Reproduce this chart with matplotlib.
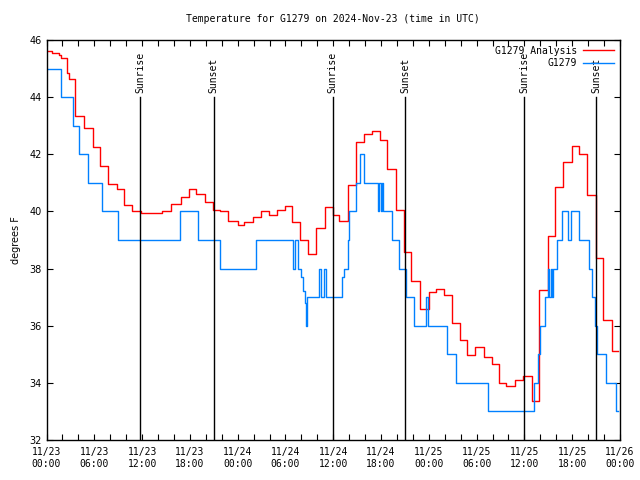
import datetime as dt
import matplotlib
matplotlib.use("Agg")
import matplotlib.pyplot as plt
import matplotlib.dates as mdates
from matplotlib.ticker import FixedLocator

# ── data (hours after 2024-11-23 00:00 UTC, deg F) ─────────────────────────
START = dt.datetime(2024, 11, 23)

analysis_h = [0.0, 0.66, 1.63, 1.76, 2.6, 2.8, 3.64, 4.77, 5.8, 6.74, 7.78,
              8.87, 9.78, 10.79, 11.88, 13.55, 14.55, 15.64, 16.9, 17.94,
              18.8, 19.86, 20.9, 21.74, 22.83, 24.08, 24.84, 25.93, 26.93,
              27.94, 28.94, 29.98, 30.86, 31.86, 32.87, 33.87, 34.91, 35.96,
              36.67, 37.79, 38.85, 39.8, 40.86, 41.81, 42.81, 43.82, 44.82,
              45.79, 46.83, 48.04, 48.88, 49.92, 50.89, 51.93, 52.85, 53.85,
              54.94, 55.91, 56.82, 57.7, 58.87, 59.87, 60.93, 61.88, 62.93,
              63.89, 64.89, 65.94, 66.9, 67.9, 68.95, 69.91, 70.96, 71.7]
analysis_t = [45.63, 45.56, 45.47, 45.36, 44.83, 44.62, 43.34, 42.92, 42.27,
              41.6, 40.95, 40.77, 40.21, 40.0, 39.93, 39.95, 40.0, 40.25, 40.5,
              40.77, 40.6, 40.33, 40.04, 40.0, 39.68, 39.53, 39.63, 39.8, 40.0,
              39.86, 40.05, 40.18, 39.63, 39.0, 38.51, 39.41, 40.14, 39.86,
              39.68, 40.93, 42.42, 42.7, 42.83, 42.5, 41.47, 40.05, 38.57,
              37.55, 36.6, 37.19, 37.27, 37.07, 36.08, 35.5, 34.97, 35.24,
              34.92, 34.66, 33.98, 33.89, 34.1, 34.25, 33.36, 37.25, 39.14,
              40.84, 41.72, 42.29, 42.0, 40.57, 38.36, 36.2, 35.11, 35.11]

obs_h = [0.0, 1.76, 3.3, 4.05, 5.18, 6.96, 8.97, 16.75, 19.0, 21.75, 26.35,
         30.9, 31.2, 31.6, 31.9, 32.15, 32.4, 32.55, 32.7, 34.15, 34.45, 34.9,
         35.05, 37.1, 37.3, 37.9, 38.0, 38.8, 39.4, 39.8, 41.65, 41.8, 42.0,
         42.1, 42.3, 43.4, 44.3, 45.1, 46.1, 47.6, 47.9, 50.3, 51.4, 55.4,
         61.25, 61.7, 61.9, 62.55, 62.9, 63.1, 63.3, 63.45, 63.55, 64.15,
         64.7, 65.5, 65.85, 66.9, 68.15, 68.45, 68.85, 69.15, 70.25, 71.5,
         71.8]
obs_t = [45, 44, 43, 42, 41, 40, 39, 40, 39, 38, 39,
         38, 39, 38, 37.7, 37.2, 36.8, 36, 37, 38, 37, 38,
         37, 37.7, 38, 39, 40, 41, 42, 41, 40, 41, 40,
         41, 40, 39, 38, 37, 36, 37, 36, 35, 34, 33,
         34, 35, 36, 37, 38, 37, 38, 37, 38, 39,
         40, 39, 40, 39, 38, 37, 36, 35, 34, 33,
         33]

sun_h = [11.79, 20.99, 35.91, 45.07, 60.0, 69.03]
sun_label = ["Sunrise", "Sunset", "Sunrise", "Sunset", "Sunrise", "Sunset"]

RED = "#ff0000"
BLUE = "#0080ff"
MONO = "DejaVu Sans Mono"


def to_time(hours):
    return [START + dt.timedelta(hours=h) for h in hours]


fig = plt.figure(figsize=(6.4, 4.8), dpi=100)
ax = fig.add_axes([46.5 / 640, 40 / 480, (620 - 46.5) / 640, 400 / 480])

ax.plot(to_time(analysis_h), analysis_t, drawstyle="steps-post",
        color=RED, lw=1.0, label="G1279 Analysis")
ax.plot(to_time(obs_h), obs_t, drawstyle="steps-post",
        color=BLUE, lw=1.0, label="G1279")

# sunrise / sunset markers
for h, lab in zip(sun_h, sun_label):
    t = START + dt.timedelta(hours=h)
    ax.plot([t, t], [32, 44], color="black", lw=1.0)
    ax.text(t, 44.15, lab, rotation=90, ha="center", va="bottom",
            fontsize=7, family=MONO)

# axes
ax.set_xlim(START, START + dt.timedelta(hours=72))
ax.set_ylim(32, 46)
ax.set_yticks(range(32, 47, 2))
ax.xaxis.set_major_locator(FixedLocator(
    mdates.date2num(to_time(range(0, 73, 6)))))
ax.xaxis.set_minor_locator(FixedLocator(
    mdates.date2num(to_time(range(0, 73, 2)))))
ax.xaxis.set_major_formatter(mdates.DateFormatter("%m/%d\n%H:%M"))
ax.tick_params(which="both", direction="in", top=True, right=True,
               length=4.5, width=0.8, labelsize=7)
ax.tick_params(axis="x", pad=5)
for lbl in ax.get_xticklabels():
    lbl.set_family(MONO)
for sp in ax.spines.values():
    sp.set_linewidth(1.0)

ax.set_ylabel("degrees F", fontsize=7, labelpad=6)
ax.set_title("Temperature for G1279 on 2024-Nov-23 (time in UTC)",
             fontsize=7, family=MONO, pad=13)

ax.legend(loc="upper right", frameon=False, markerfirst=False,
          fontsize=7, prop={"family": MONO, "size": 7},
          handlelength=3.2, borderaxespad=0.2, labelspacing=0.25,
          handletextpad=0.6)

fig.savefig("out.png", dpi=100)
